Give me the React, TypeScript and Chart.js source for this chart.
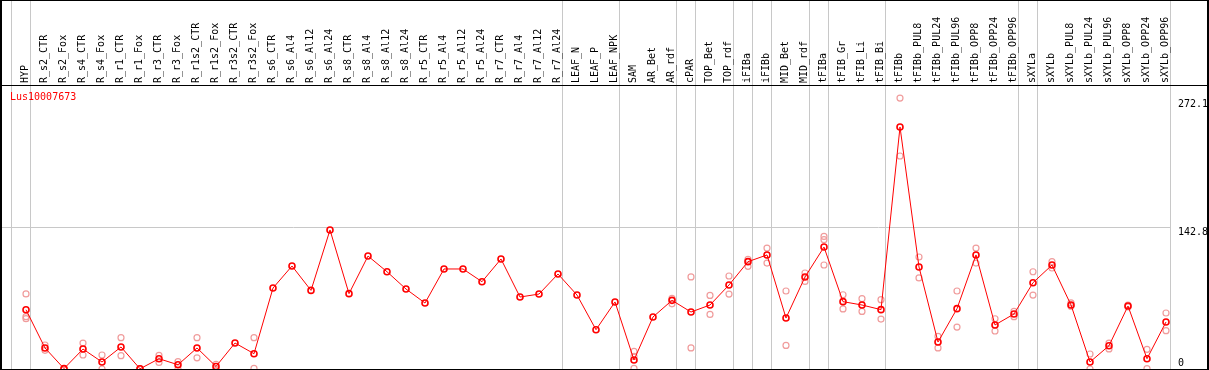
import React, { useEffect, useRef } from "react";
import { Chart, registerables } from "chart.js";

Chart.register(...registerables);

const geneName = "Lus10007673";

const labels = [
  "HYP", "R_s2_CTR", "R_s2_Fox", "R_s4_CTR", "R_s4_Fox", "R_r1_CTR", "R_r1_Fox", "R_r3_CTR", "R_r3_Fox",
  "R_r1s2_CTR", "R_r1s2_Fox", "R_r3s2_CTR", "R_r3s2_Fox", "R_s6_CTR", "R_s6_Al4", "R_s6_Al12", "R_s6_Al24",
  "R_s8_CTR", "R_s8_Al4", "R_s8_Al12", "R_s8_Al24", "R_r5_CTR", "R_r5_Al4", "R_r5_Al12", "R_r5_Al24",
  "R_r7_CTR", "R_r7_Al4", "R_r7_Al12", "R_r7_Al24", "LEAF_N", "LEAF_P", "LEAF_NPK", "SAM", "AR_Bet", "AR_rdf",
  "cPAR", "TOP_Bet", "TOP_rdf", "iFIBa", "iFIBb", "MID_Bet", "MID_rdf", "tFIBa", "tFIB_Gr", "tFIB_Li", "tFIB_Bi",
  "tFIBb", "tFIBb_PUL8", "tFIBb_PUL24", "tFIBb_PUL96", "tFIBb_OPP8", "tFIBb_OPP24", "tFIBb_OPP96",
  "sXYLa", "sXYLb", "sXYLb_PUL8", "sXYLb_PUL24", "sXYLb_PUL96", "sXYLb_OPP8", "sXYLb_OPP24", "sXYLb_OPP96",
];

const means = [
  60.0, 21.3, 0.4, 20.2, 7.1, 22.3, 0.2, 10.4, 4.3,
  21.3, 2.6, 26.3, 15.5, 82.0, 104.3, 79.6, 140.8,
  76.3, 114.4, 98.5, 81.0, 66.8, 101.3, 101.3, 88.4,
  111.4, 72.9, 75.9, 96.2, 74.9, 39.8, 67.9, 9.1, 52.7, 69.5,
  57.7, 64.8, 85.1, 108.7, 115.5, 51.6, 93.2, 123.5, 68.2, 64.8, 60.1,
  245.1, 103.3, 27.3, 61.1, 115.5, 44.6, 55.7,
  87.4, 105.3, 64.8, 7.1, 23.6, 63.8, 10.4, 47.6,
];

const repA = [
  76, 24.3, 0.5, 26.3, 14.2, 31.7, 0.4, 13.8, 7.4,
  31.7, 4.7, null, 31.7, null, null, null, null,
  null, null, null, null, null, null, null, null,
  null, null, null, null, null, null, null, 17.8, null, 71.5,
  93.2, 74.5, 94.2, 111, 122.5, 79, 97.2, 134.3, 75.2, 71.2, 70.2,
  274.4, 113.4, 33, 79, 122.5, 50.9, 58.4,
  98.5, 108.7, 67, 15.2, 26.3, 64.8, 19.9, 56.7,
];

const repB = [
  53, 18.9, 0, 14.2, 0, 13.5, 0, 6.7, 0,
  11.3, 0, null, 0.7, null, null, null, null,
  null, null, null, null, null, null, null, null,
  null, null, null, null, null, null, null, 12.7, null, 66,
  21.3, 55.3, 75.9, 104, 107.3, 23.9, 88.7, 131, 60.8, 58.3, 50.6,
  215.7, 92.2, 21.3, 42.5, 107.3, 38.5, 53,
  74.9, 102.3, 63.6, 0, 20.3, 62.8, 0.4, 38.8,
];

const repC = [
  51, null, null, null, null, null, null, null, null,
  null, null, null, null, null, null, null, null,
  null, null, null, null, null, null, null, null,
  null, null, null, null, null, null, null, 0.7, null, null,
  null, null, null, null, null, null, null, 105.3, null, null, null,
  null, null, null, null, null, null, null,
  null, null, null, null, null, null, null, null,
];

const yTicks = [0, 142.8, 272.1];
const separatorsAfter = [-1, 0, 28, 31, 34, 35, 37, 38, 39, 41, 42, 45, 52, 53, 60];

const FONT = "'DejaVu Sans Mono', monospace";
const RED = "#ff0000";
const PINK = "#f09c9c";
const GRID = "#c8c8c8";

const toPoints = (arr: (number | null)[]) => arr.map((v, i) => ({ x: i, y: v }));

const decorPlugin = {
  id: "decor",
  beforeDraw(chart: any) {
    const { ctx, chartArea, scales } = chart;
    const xs = scales.x;
    ctx.save();
    ctx.fillStyle = GRID;
    separatorsAfter.forEach((i) => {
      const px = Math.round(xs.getPixelForValue(i + 0.25));
      ctx.fillRect(px - 1, 0, 1, chartArea.bottom);
    });
    ctx.restore();
  },
  afterDraw(chart: any) {
    const { ctx, chartArea, scales, width, height } = chart;
    const ys = scales.y;
    ctx.save();
    ctx.fillStyle = "#000";
    ctx.fillRect(0, 0, 2, height);
    ctx.fillRect(0, 0, width, 1);
    ctx.fillRect(width - 2, 0, 2, height);
    ctx.fillRect(0, chartArea.top - 1, width, 1);
    ctx.fillRect(0, chartArea.bottom, width, 2);

    ctx.font = `10px ${FONT}`;
    ctx.textAlign = "left";
    ys.ticks.forEach((t: any) => {
      const py = ys.getPixelForValue(t.value);
      const txt = String(t.value);
      if (t.value === 0) {
        ctx.textBaseline = "alphabetic";
        ctx.fillText(txt, ys.left + 7, py - 3);
      } else {
        ctx.textBaseline = "top";
        ctx.fillText(txt, ys.left + 7, py - 1);
      }
    });

    ctx.fillStyle = RED;
    ctx.textBaseline = "top";
    ctx.fillText(geneName, 10, chartArea.top + 6);
    ctx.restore();
  },
};

export default function App() {
  const ref = useRef<HTMLCanvasElement | null>(null);

  useEffect(() => {
    document.body.style.margin = "0";
    const canvas = ref.current;
    if (!canvas) return;
    const repStyle = {
      type: "line" as const,
      showLine: false,
      borderColor: PINK,
      backgroundColor: "rgba(0,0,0,0)",
      pointBorderColor: PINK,
      pointBackgroundColor: "rgba(0,0,0,0)",
      pointRadius: 3,
      pointBorderWidth: 1.2,
      pointHoverRadius: 3,
    };
    const chart = new Chart(canvas, {
      type: "line",
      data: {
        datasets: [
          { ...repStyle, label: "rep A", data: toPoints(repA), order: 3 },
          { ...repStyle, label: "rep B", data: toPoints(repB), order: 3 },
          { ...repStyle, label: "rep C", data: toPoints(repC), order: 3 },
          {
            label: geneName,
            data: toPoints(means),
            borderColor: RED,
            borderWidth: 1,
            backgroundColor: "rgba(0,0,0,0)",
            pointBorderColor: RED,
            pointBackgroundColor: "rgba(0,0,0,0)",
            pointRadius: 3,
            pointBorderWidth: 1.6,
            pointHoverRadius: 3,
            tension: 0,
            order: 1,
          },
        ],
      },
      options: {
        animation: false,
        responsive: false,
        devicePixelRatio: 1,
        events: [],
        layout: { autoPadding: false, padding: { left: 1, right: 0, top: 0, bottom: 1 } },
        plugins: {
          legend: { display: false },
          tooltip: { enabled: false },
          title: { display: false },
        },
        scales: {
          x: {
            type: "linear",
            position: "top",
            min: -25 / 19,
            max: 60 + 5 / 19,
            grid: { display: false, drawTicks: false },
            border: { display: false },
            afterBuildTicks: (scale: any) => {
              scale.ticks = labels.map((_, i) => ({ value: i }));
            },
            afterFit: (scale: any) => {
              scale.height = 86;
              scale.paddingLeft = 0;
              scale.paddingRight = 0;
              scale.paddingTop = 0;
              scale.paddingBottom = 0;
            },
            ticks: {
              autoSkip: false,
              minRotation: 90,
              maxRotation: 90,
              padding: 3,
              labelOffset: 11.5,
              color: "#000",
              font: { family: FONT, size: 10 },
              callback: (value: any) => labels[Math.round(Number(value))] ?? "",
            },
          },
          y: {
            type: "linear",
            position: "right",
            min: 0,
            max: 286.6,
            afterBuildTicks: (scale: any) => {
              scale.ticks = yTicks.map((v) => ({ value: v }));
            },
            afterFit: (scale: any) => {
              scale.width = 38;
              scale.paddingTop = 0;
              scale.paddingBottom = 0;
              scale.paddingLeft = 0;
              scale.paddingRight = 0;
            },
            grid: {
              drawTicks: false,
              color: (ctx: any) => (ctx.tick && ctx.tick.value === 142.8 ? GRID : "rgba(0,0,0,0)"),
            },
            border: { display: false },
            ticks: { display: false },
          },
        },
      },
      plugins: [decorPlugin],
    });
    return () => chart.destroy();
  }, []);

  return (
    <div style={{ width: 1209, height: 370 }}>
      <canvas ref={ref} width={1209} height={370} style={{ display: "block" }} />
    </div>
  );
}
